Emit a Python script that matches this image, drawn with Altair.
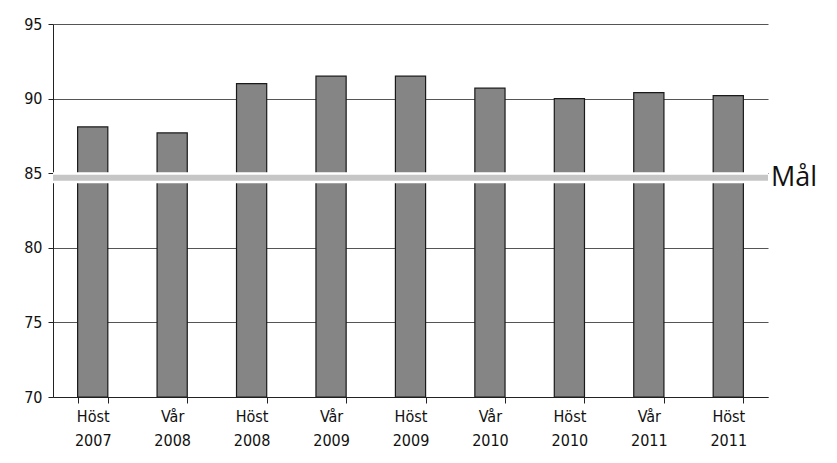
import altair as alt
import pandas as pd

seasons = ["Höst", "Vår", "Höst", "Vår", "Höst", "Vår", "Höst", "Vår", "Höst"]
years = ["2007", "2008", "2008", "2009", "2009", "2010", "2010", "2011", "2011"]
values = [88.1, 87.7, 91.0, 91.5, 91.5, 90.7, 90.0, 90.4, 90.2]
goal_value = 84.7
goal_label = "Mål"
y_ticks = [70, 75, 80, 85, 90, 95]

cats = [f"{s} {y}" for s, y in zip(seasons, years)]
df = pd.DataFrame({"cat": cats, "value": values})
goal_df = pd.DataFrame({"goal": [goal_value], "label": [goal_label]})

W, H = 715, 373

x_enc = alt.X(
    "cat:N", sort=cats, title=None,
    scale=alt.Scale(paddingInner=0.62, paddingOuter=0.31),
    axis=alt.Axis(
        labelExpr="split(datum.label, ' ')", labelAngle=0,
        labelFont="DejaVu Sans Condensed", labelFontSize=16, labelColor="#111",
        labelLineHeight=24, labelPadding=5, tickBand="extent", tickSize=6,
        tickColor="#222", domainColor="#222", grid=False,
    ),
)
y_scale = alt.Scale(domain=[70, 95], nice=False, zero=False)
y_axis = alt.Axis(
    values=y_ticks, labelFont="DejaVu Sans Condensed", labelFontSize=16,
    labelColor="#111", tickSize=5, tickColor="#222", domainColor="#222",
    gridColor="#555", gridWidth=1, labelPadding=6,
)

bars = alt.Chart(df).mark_bar(fill="#858585", stroke="#1a1a1a", strokeWidth=1.2).encode(
    x=x_enc,
    y=alt.Y("value:Q", scale=y_scale, axis=y_axis, title=None),
    y2=alt.datum(70),
)

goal_white = alt.Chart(goal_df).mark_rule(color="white", strokeWidth=11).encode(
    y=alt.Y("goal:Q", scale=y_scale)
)
goal_band = alt.Chart(goal_df).mark_rule(color="#c6c6c6", strokeWidth=6).encode(
    y=alt.Y("goal:Q", scale=y_scale)
)
goal_text = alt.Chart(goal_df).mark_text(
    align="left", baseline="middle", font="Open Sans", fontSize=27, color="#111", dx=3
).encode(
    y=alt.Y("goal:Q", scale=y_scale),
    x=alt.value(W),
    text="label:N",
)

chart = alt.layer(bars, goal_white, goal_band, goal_text).properties(
    width=W, height=H,
    autosize=alt.AutoSizeParams(type="none"),
    padding={"left": 45, "top": 16, "right": 61, "bottom": 66},
).configure(background="white").configure_view(stroke=None)

chart.save("out.html", embed_options={"renderer": "svg", "actions": False})
